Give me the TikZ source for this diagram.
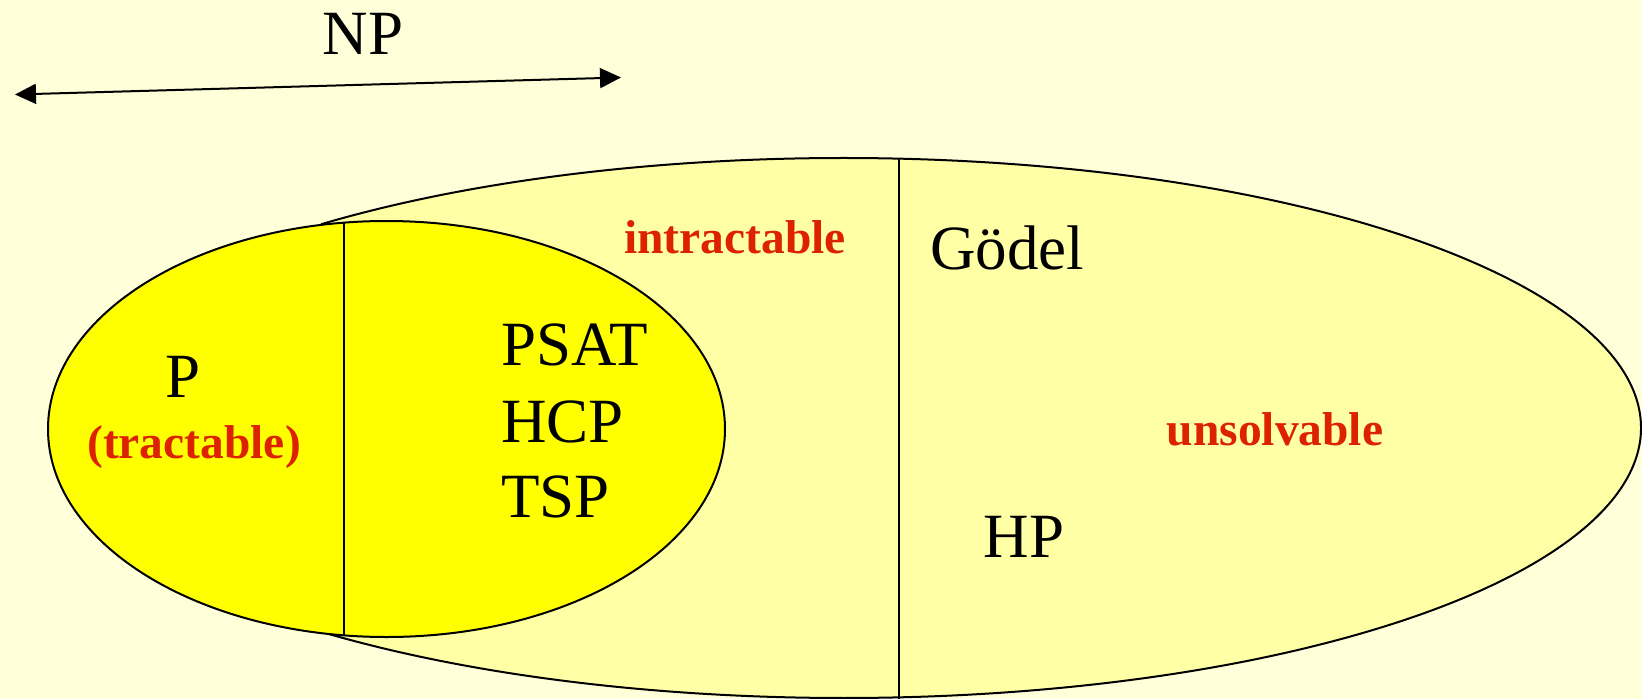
\documentclass[tikz,border=0pt]{standalone}
\usepackage{fontspec}
\setmainfont{Liberation Serif}
\usetikzlibrary{arrows.meta}
\definecolor{bgcol}{RGB}{255,255,217}
\definecolor{npcol}{RGB}{255,255,166}
\definecolor{pcol}{RGB}{255,255,0}
\definecolor{redlab}{RGB}{221,34,0}
\begin{document}
\begin{tikzpicture}[x=1pt,y=-1pt,
  outline/.style={draw=black, line width=2pt},
  bigtxt/.style={inner sep=0pt, font=\fontsize{63}{75}\selectfont, text=black},
  redtxt/.style={inner sep=0pt, font=\fontsize{47.5}{57}\selectfont\bfseries, text=redlab},
  dblarrow/.style={line width=2pt, {Triangle[length=21pt,width=20pt]}-{Triangle[length=21pt,width=20pt]}}
]
\fill[bgcol] (0,0) rectangle (1642,699);
\useasboundingbox (0,0) rectangle (1642,699);
% NP region (undecidable side included)
\fill[npcol] (844,428) ++(-131:797 and 270) arc[start angle=-131,end angle=131,x radius=797,y radius=270] -- cycle;
\draw[outline] (844,428) ++(-131:797 and 270) arc[start angle=-131,end angle=131,x radius=797,y radius=270];
% P / NP-complete ellipse
\draw[outline, fill=pcol] (386.5,429) ellipse [x radius=338.5, y radius=208];
\draw[outline] (344,222.6) -- (344,635.4);
\draw[outline] (899,158.6) -- (899,699);
% NP arrow
\node[bigtxt, anchor=base] (np) at (363,54) {NP};
\coordinate (npl) at (15,94.5);
\coordinate (npr) at (621,77.5);
\draw[dblarrow] (npl) -- (npr);
% labels
\node[bigtxt, anchor=base] (p) at (183.5,397) {P};
\node[redtxt, anchor=base] (tract) at (194,458) {(tractable)};
\node[redtxt, anchor=base] (intract) at (735,253) {intractable};
\node[bigtxt, anchor=base west] (psat) at (501,365) {PSAT};
\node[bigtxt, anchor=base west] (hcp) at (501,442) {HCP};
\node[bigtxt, anchor=base west] (tsp) at (501,517) {TSP};
\node[bigtxt, anchor=base west] (godel) at (930,269) {Gödel};
\node[redtxt, anchor=base] (unsolv) at (1275,445) {unsolvable};
\node[bigtxt, anchor=base] (hp) at (1024,557) {HP};
\end{tikzpicture}
\end{document}
